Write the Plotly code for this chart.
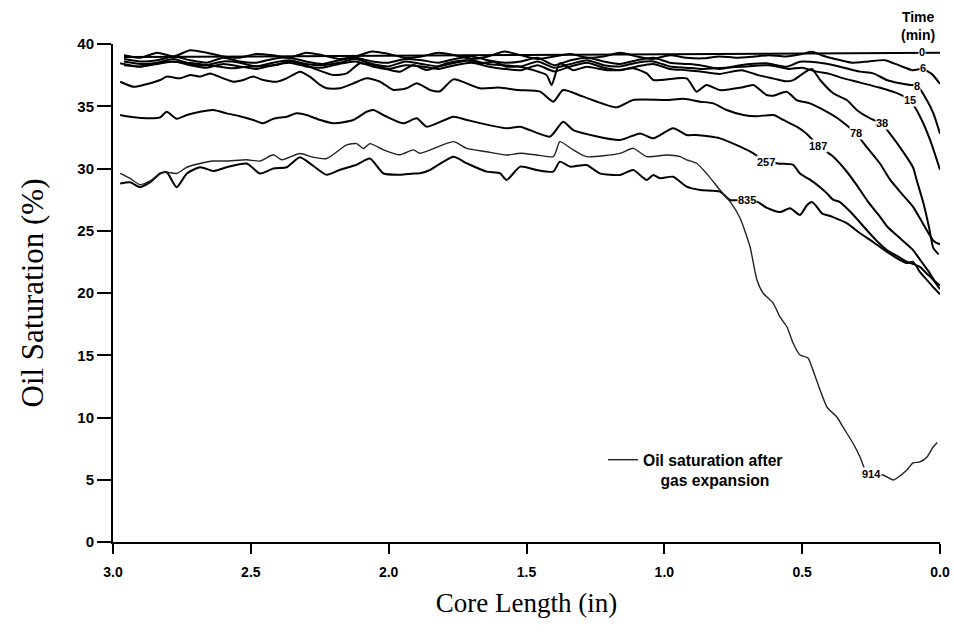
import plotly.graph_objects as go

# ---------------- data ----------------
t0_x = [2.96, 1.50, 0.0]
t0_y = [38.95, 39.12, 39.3]

t6_x = [2.96, 2.90, 2.84, 2.78, 2.72, 2.66, 2.60, 2.54, 2.48, 2.42, 2.36, 2.30, 2.24, 2.18,
        2.12, 2.06, 2.00, 1.94, 1.88, 1.82, 1.76, 1.70, 1.64, 1.58, 1.52, 1.46, 1.40, 1.34,
        1.28, 1.22, 1.16, 1.10, 1.04, 0.98, 0.92, 0.86, 0.80, 0.74, 0.68, 0.62, 0.56, 0.50,
        0.465, 0.43, 0.38, 0.32, 0.26, 0.20, 0.15, 0.10, 0.063, 0.03, 0.0]
t6_y = [39.1, 38.9, 39.3, 39.0, 39.5, 39.3, 39.0, 38.9, 39.2, 39.1, 38.9, 39.3, 39.1, 38.8,
        39.0, 39.4, 39.2, 38.9, 39.0, 39.3, 39.1, 38.8, 39.0, 39.4, 39.1, 38.8, 39.0, 39.2,
        38.9, 39.0, 39.3, 39.0, 38.8, 39.1, 38.9, 38.85, 39.0, 38.9, 38.98, 39.1, 39.0, 39.2,
        39.38, 39.1, 38.8, 38.5, 38.6, 38.7, 38.3, 37.9, 38.0, 37.6, 36.8]

t8_x = [2.96, 2.90, 2.84, 2.78, 2.72, 2.66, 2.60, 2.54, 2.48, 2.42, 2.36, 2.30, 2.24, 2.18,
        2.12, 2.06, 2.00, 1.94, 1.88, 1.82, 1.76, 1.70, 1.64, 1.58, 1.52, 1.46, 1.40, 1.34,
        1.28, 1.22, 1.16, 1.10, 1.04, 0.98, 0.92, 0.87, 0.80, 0.725, 0.63, 0.556, 0.508,
        0.472, 0.423, 0.363, 0.29, 0.242, 0.193, 0.145, 0.109, 0.082, 0.048, 0.024, 0.0]
t8_y = [38.8, 38.6, 38.7, 39.0, 38.7, 38.5, 38.9, 38.6, 38.5, 38.8, 38.9, 38.6, 38.4, 38.7,
        38.9, 38.6, 38.5, 38.8, 38.7, 38.5, 38.8, 39.0, 38.7, 38.5, 38.6, 38.9, 38.3, 38.7,
        38.9, 38.6, 38.4, 38.7, 38.9, 38.5, 38.4, 38.3, 38.0, 38.3, 38.45, 38.18, 38.58,
        38.58, 38.45, 38.18, 37.78, 37.64, 37.11, 36.84, 36.71, 36.63, 35.5, 34.43, 32.8]

t15_x = [2.96, 2.90, 2.84, 2.78, 2.72, 2.66, 2.60, 2.54, 2.48, 2.42, 2.36, 2.30, 2.24, 2.18,
         2.12, 2.06, 2.00, 1.94, 1.88, 1.82, 1.76, 1.70, 1.64, 1.58, 1.52, 1.46, 1.40, 1.34,
         1.28, 1.22, 1.16, 1.10, 1.04, 0.98, 0.92, 0.87, 0.78, 0.70, 0.62, 0.55, 0.50, 0.45,
         0.40, 0.36, 0.29, 0.22, 0.15, 0.109, 0.073, 0.036, 0.0]
t15_y = [38.6, 38.4, 38.5, 38.8, 38.4, 38.3, 38.6, 38.5, 38.2, 38.5, 38.7, 38.4, 38.3, 38.5,
         38.8, 38.4, 38.2, 38.6, 38.4, 38.2, 38.5, 38.7, 38.4, 38.3, 38.2, 38.6, 38.1, 38.4,
         38.7, 38.3, 38.2, 38.5, 38.6, 38.2, 38.1, 38.0, 38.1, 38.2, 38.3, 38.0, 38.1, 37.8,
         37.6, 37.3, 36.9, 36.5, 36.0, 35.5, 34.2, 32.3, 29.9]

t38_x = [2.96, 2.90, 2.84, 2.78, 2.72, 2.66, 2.60, 2.54, 2.48, 2.42, 2.36, 2.30, 2.24, 2.18,
         2.12, 2.06, 2.00, 1.94, 1.88, 1.82, 1.76, 1.70, 1.64, 1.58, 1.52, 1.46, 1.40, 1.34,
         1.28, 1.22, 1.16, 1.10, 1.04, 0.98, 0.92, 0.87, 0.80, 0.72, 0.66, 0.60, 0.56, 0.532,
         0.496, 0.465, 0.435, 0.387, 0.338, 0.302, 0.242, 0.211, 0.192, 0.145, 0.098, 0.085,
         0.06, 0.04, 0.024, 0.005]
t38_y = [38.3, 38.2, 38.4, 38.6, 38.3, 38.1, 38.4, 38.2, 38.0, 38.3, 38.5, 38.2, 38.1, 38.4,
         38.6, 38.2, 38.0, 38.3, 38.2, 38.0, 38.3, 38.5, 38.2, 38.0, 37.9, 38.3, 37.8, 38.2,
         38.5, 38.1, 37.9, 38.2, 38.4, 38.0, 37.9, 37.8, 37.6, 37.9, 37.5, 37.2, 37.0, 37.1,
         37.64, 38.0, 37.11, 36.04, 35.5, 34.7, 33.9, 33.63, 33.1, 31.7, 30.1, 29.1,
         27.2, 25.3, 23.6, 23.1]

t78_x = [2.974, 2.902, 2.805, 2.709, 2.660, 2.563, 2.515, 2.406, 2.370, 2.322, 2.273, 2.201,
         2.152, 2.104, 2.056, 1.995, 1.959, 1.910, 1.862, 1.789, 1.717, 1.669, 1.620, 1.572,
         1.523, 1.475, 1.427, 1.409, 1.379, 1.330, 1.282, 1.209, 1.161, 1.113, 1.064, 1.040,
         0.919, 0.883, 0.847, 0.798, 0.72, 0.677, 0.629, 0.604, 0.556, 0.520, 0.472, 0.423,
         0.363, 0.305, 0.265, 0.218, 0.181, 0.14, 0.097, 0.06, 0.024, 0.0]
t78_y = [38.45, 38.18, 38.58, 38.45, 38.31, 38.05, 38.18, 38.31, 38.58, 38.45, 38.05, 37.51,
         37.64, 38.45, 38.31, 37.91, 37.78, 38.31, 37.91, 38.45, 38.7, 38.45, 38.58, 38.18,
         38.18, 37.9, 37.5, 36.71, 38.45, 37.9, 38.18, 37.9, 37.91, 38.05, 37.64, 37.11,
         37.24, 36.17, 36.71, 36.3, 36.5, 36.71, 35.9, 35.85, 36.17, 35.5, 35.23, 34.7,
         33.9, 32.8, 31.7, 30.4, 29.1, 28.0, 26.9, 25.5, 24.2, 23.9]

t187_x = [2.974, 2.926, 2.890, 2.829, 2.805, 2.757, 2.720, 2.684, 2.648, 2.600, 2.563, 2.527,
          2.491, 2.455, 2.406, 2.370, 2.322, 2.286, 2.249, 2.225, 2.176, 2.128, 2.080, 2.031,
          1.983, 1.935, 1.898, 1.850, 1.814, 1.765, 1.669, 1.60, 1.53, 1.451, 1.403, 1.367,
          1.294, 1.173, 1.113, 0.992, 0.93, 0.870, 0.822, 0.774, 0.713, 0.665, 0.604, 0.568,
          0.520, 0.484, 0.441, 0.39, 0.34, 0.30, 0.26, 0.22, 0.19, 0.15, 0.10, 0.07, 0.04,
          0.02, 0.0]
t187_y = [36.97, 36.57, 36.71, 37.11, 37.38, 37.24, 37.51, 37.38, 37.64, 37.24, 36.97, 37.11,
          37.38, 37.11, 36.97, 37.24, 37.78, 37.38, 36.71, 36.44, 36.44, 36.84, 37.24, 36.97,
          36.31, 36.44, 36.84, 36.31, 36.2, 37.16, 36.44, 36.5, 36.3, 36.17, 35.37, 36.3,
          35.77, 34.91, 35.5, 35.5, 35.6, 35.37, 35.23, 34.7, 34.3, 34.2, 34.3, 33.9,
          33.36, 32.8, 31.83, 31.0, 29.8, 28.6, 27.3, 26.2, 25.3, 24.5, 23.5, 22.6, 21.7,
          21.0, 20.6]

t257_x = [2.974, 2.938, 2.865, 2.829, 2.805, 2.769, 2.732, 2.684, 2.636, 2.588, 2.540, 2.491,
          2.455, 2.418, 2.370, 2.334, 2.298, 2.249, 2.201, 2.128, 2.080, 2.056, 2.007, 1.947,
          1.898, 1.862, 1.765, 1.717, 1.572, 1.523, 1.415, 1.367, 1.330, 1.161, 1.088, 1.040,
          0.968, 0.919, 0.883, 0.798, 0.725, 0.677, 0.641, 0.588, 0.533, 0.508, 0.472, 0.435,
          0.41, 0.388, 0.363, 0.32, 0.266, 0.23, 0.193, 0.15, 0.121, 0.073, 0.05, 0.024, 0.0]
t257_y = [34.3, 34.16, 34.03, 34.1, 34.56, 34.0, 34.3, 34.56, 34.7, 34.43, 34.2, 33.9,
          33.63, 34.0, 34.16, 34.43, 34.3, 33.9, 33.63, 33.9, 34.56, 34.7, 34.16, 33.63,
          34.03, 33.36, 34.16, 33.9, 33.23, 33.36, 32.56, 33.76, 33.09, 32.29, 32.82, 32.42,
          33.23, 32.69, 32.69, 32.42, 31.75, 31.22, 30.68, 30.4, 30.3, 29.6, 29.1, 28.5,
          28.0, 27.5, 27.3, 26.4, 25.06, 24.2, 23.45, 22.9, 22.52, 22.1, 21.6, 21.04, 20.3]

t835_x = [2.974, 2.938, 2.902, 2.865, 2.829, 2.805, 2.769, 2.732, 2.684, 2.636, 2.588, 2.515,
          2.467, 2.418, 2.370, 2.322, 2.273, 2.225, 2.176, 2.116, 2.068, 2.019, 1.959, 1.910,
          1.886, 1.850, 1.765, 1.717, 1.645, 1.596, 1.572, 1.523, 1.463, 1.403, 1.379, 1.342,
          1.282, 1.234, 1.161, 1.113, 1.064, 1.040, 1.016, 0.968, 0.919, 0.870, 0.798, 0.762,
          0.70, 0.66, 0.628, 0.580, 0.544, 0.508, 0.482, 0.464, 0.446, 0.428, 0.388, 0.337,
          0.290, 0.243, 0.192, 0.145, 0.120, 0.098, 0.073, 0.047, 0.025, 0.0]
t835_y = [28.8, 28.9, 28.5, 28.9, 29.6, 29.7, 28.5, 29.6, 30.1, 29.8, 30.1, 30.4,
          29.6, 30.0, 30.1, 30.9, 30.2, 29.5, 29.9, 30.3, 30.8, 29.6, 29.5, 29.6,
          29.61, 29.88, 30.95, 30.42, 29.75, 29.61, 29.08, 30.15, 29.88, 29.75, 30.55, 30.15,
          30.28, 29.61, 29.48, 29.88, 29.08, 29.48, 29.21, 29.34, 28.54, 28.27, 28.14, 27.47,
          27.5, 27.3, 26.83, 26.5, 26.8, 26.27, 27.07, 27.3, 26.9, 26.4, 26.1, 25.6,
          24.8, 24.1, 23.3, 22.65, 22.4, 22.5, 21.7, 21.04, 20.48, 19.9]

t914_x = [2.974, 2.938, 2.902, 2.865, 2.829, 2.805, 2.769, 2.732, 2.684, 2.636, 2.588, 2.515,
          2.467, 2.418, 2.388, 2.322, 2.273, 2.225, 2.152, 2.116, 2.092, 2.068, 2.019, 1.959,
          1.910, 1.886, 1.765, 1.717, 1.645, 1.572, 1.523, 1.463, 1.403, 1.391, 1.379, 1.330,
          1.282, 1.161, 1.113, 1.064, 0.992, 0.943, 0.919, 0.883, 0.847, 0.798, 0.76, 0.725,
          0.689, 0.664, 0.642, 0.606, 0.580, 0.555, 0.533, 0.508, 0.479, 0.461, 0.435, 0.410,
          0.374, 0.352, 0.316, 0.290, 0.265, 0.207, 0.170, 0.156, 0.120, 0.098, 0.073, 0.047,
          0.025, 0.01]
t914_y = [29.6, 29.2, 28.7, 29.0, 29.6, 29.7, 29.6, 30.1, 30.4, 30.6, 30.6, 30.7,
          30.6, 31.1, 30.7, 31.2, 30.9, 30.8, 31.9, 32.0, 31.6, 32.0, 31.5, 31.1,
          31.5, 31.22, 32.16, 31.62, 31.35, 31.08, 31.22, 31.08, 30.95, 31.5, 32.16, 31.49,
          30.95, 31.22, 31.62, 30.95, 31.08, 30.95, 30.7, 30.42, 29.61, 28.27, 27.3, 26.0,
          23.69, 21.04, 20.0, 19.2, 18.07, 17.27, 15.98, 15.02, 14.78, 13.82, 12.21, 10.84,
          10.04, 9.24, 7.95, 6.83, 5.54, 5.38, 4.98, 5.14, 5.78, 6.35, 6.43, 6.83,
          7.63, 8.0]

time_labels = ["0", "6", "8", "15", "38", "78", "187", "257", "835", "914"]
label_x = [0.066, 0.063, 0.082, 0.109, 0.211, 0.305, 0.441, 0.63, 0.70, 0.247]
label_y = [39.35, 38.05, 36.6, 35.5, 33.63, 32.83, 31.83, 30.5, 27.5, 5.5]

x_ticks = [3.0, 2.5, 2.0, 1.5, 1.0, 0.5, 0.0]
y_ticks = [0, 5, 10, 15, 20, 25, 30, 35, 40]

# ---------------- figure ----------------
series = [
    (t0_x, t0_y), (t6_x, t6_y), (t8_x, t8_y), (t15_x, t15_y), (t38_x, t38_y),
    (t78_x, t78_y), (t187_x, t187_y), (t257_x, t257_y), (t835_x, t835_y),
]

fig = go.Figure()
for xs, ys in series:
    fig.add_trace(go.Scatter(x=xs, y=ys, mode="lines",
                             line=dict(color="black", width=2, shape="spline", smoothing=0.6),
                             showlegend=False, hoverinfo="skip"))

fig.add_trace(go.Scatter(x=t914_x, y=t914_y, mode="lines",
                         line=dict(color="#222", width=1.4, shape="spline", smoothing=0.6),
                         name="Oil saturation after<br>&nbsp;&nbsp;&nbsp;&nbsp;gas expansion",
                         showlegend=True, hoverinfo="skip"))

for t, lx, ly in zip(time_labels, label_x, label_y):
    fig.add_annotation(x=lx, y=ly, xref="x", yref="y", text=t, showarrow=False,
                       font=dict(family="Liberation Sans", size=11, color="black", weight="bold"),
                       bgcolor="white", borderpad=0)

fig.add_annotation(xref="paper", yref="paper", x=(918 - 113) / 827, y=1 + (44 - 26) / 498,
                   text="Time<br>(min)", showarrow=False, xanchor="center", yanchor="middle",
                   font=dict(family="Liberation Sans", size=14, color="black", weight="bold"))

fig.update_layout(
    width=954, height=632, autosize=False,
    margin=dict(l=113, r=14, t=44, b=90, autoexpand=False),
    paper_bgcolor="white", plot_bgcolor="white",
    showlegend=True,
    legend=dict(x=(603 - 113) / 827, y=(542 - 443) / 498, xanchor="left", yanchor="top",
                bgcolor="rgba(0,0,0,0)", valign="top",
                font=dict(family="Liberation Sans", size=15.7, color="black", weight="bold")),
    xaxis=dict(range=[3.0, 0.0], tickvals=x_ticks, ticktext=[f"{v:.1f}" for v in x_ticks],
               automargin=False,
               showline=True, linecolor="black", linewidth=2, ticks="outside", ticklen=10,
               tickwidth=2, tickcolor="black", showgrid=False, zeroline=False,
               ticklabelstandoff=6,
               tickfont=dict(family="Liberation Sans", size=14, color="black", weight="bold"),
               title=dict(text="Core Length (in)", standoff=14,
                          font=dict(family="Liberation Serif", size=27, color="black"))),
    yaxis=dict(range=[0, 40], tickvals=y_ticks, automargin=False,
               showline=True, linecolor="black", linewidth=2, ticks="outside", ticklen=14,
               tickwidth=2, tickcolor="black", showgrid=False, zeroline=False,
               tickfont=dict(family="Liberation Sans", size=15, color="black", weight="bold"),
               title=dict(text="Oil Saturation (%)", standoff=24,
                          font=dict(family="Liberation Serif", size=31, color="black"))),
)

fig.write_html("out.html", config={"displayModeBar": False},
               post_script="document.body.style.margin='0';document.body.style.overflow='hidden';")
